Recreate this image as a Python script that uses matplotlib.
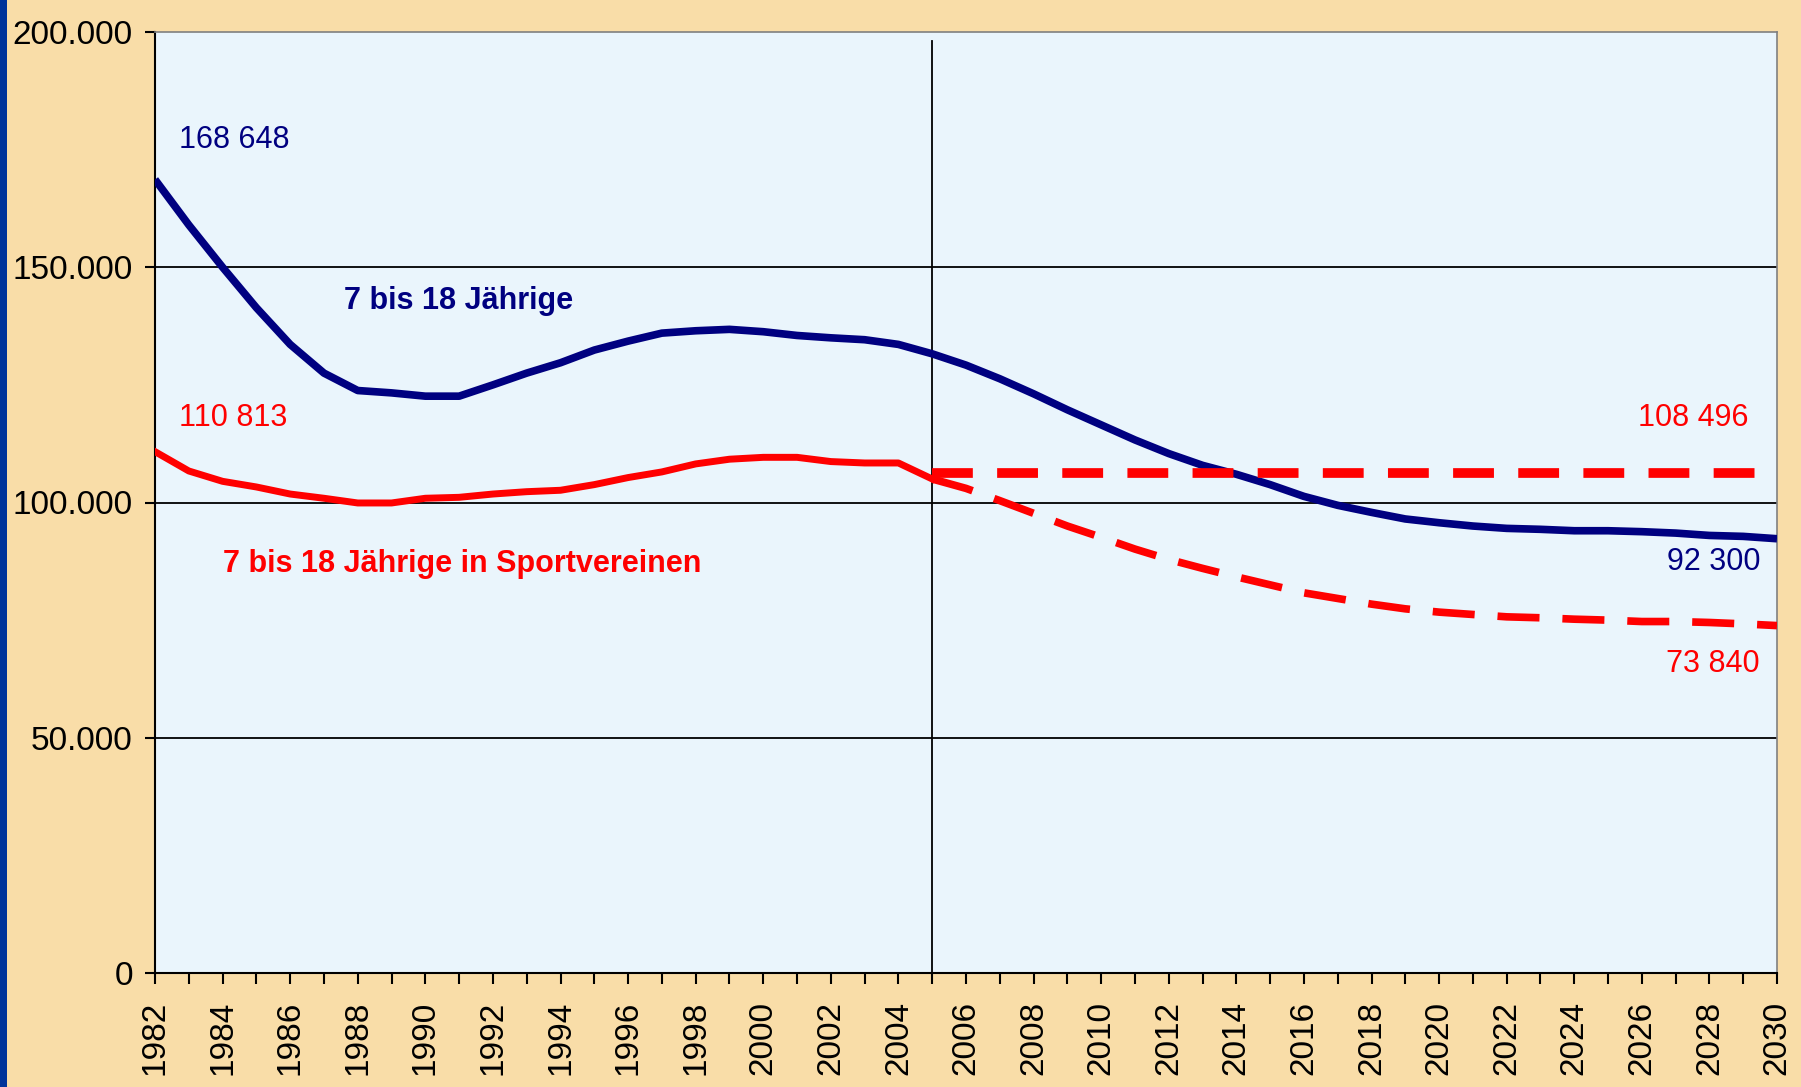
import matplotlib.pyplot as plt
from matplotlib.patches import Rectangle
from matplotlib.ticker import FuncFormatter

plt.rcParams['font.family'] = ['Liberation Sans', 'DejaVu Sans']

years = list(range(1982, 2031))
years_hist = list(range(1982, 2006))
years_proj = list(range(2005, 2031))

# 7 bis 18 Jaehrige (Bevoelkerung)
population = [168648, 159000, 150000, 141400, 133600, 127500, 123800, 123300, 122600, 122600,
              125000, 127500, 129700, 132400, 134300, 136000, 136500, 136800, 136300, 135500,
              135000, 134600, 133600, 131600, 129200, 126300, 123100, 119700, 116500, 113300,
              110400, 107900, 106000, 103800, 101300, 99400, 97900, 96500, 95700, 95000,
              94500, 94300, 94000, 94000, 93800, 93500, 93000, 92800, 92300]

# in Sportvereinen, bis 2005
members_hist = [110813, 106700, 104500, 103300, 101800, 100900, 99900, 99900, 100900, 101100,
                101800, 102300, 102600, 103800, 105300, 106500, 108200, 109200, 109600, 109600,
                108700, 108400, 108400, 105000]

# Projektion: konstante Quote
members_const = [106300] * len(years_proj)

# Projektion: Rueckgang
members_proj = [105000, 103000, 100400, 97700, 95000, 92600, 90100, 87900, 86000, 84200,
                82500, 80800, 79600, 78400, 77400, 76700, 76200, 75700, 75500, 75200,
                75000, 74700, 74700, 74500, 74200, 73840]

bg = '#F9DDA8'
navy = '#000080'
red = '#FF0000'

fig = plt.figure(figsize=(18.01, 10.87), dpi=100, facecolor=bg)
fig.patches.append(Rectangle((0, 0), 7 / 1801, 1, transform=fig.transFigure,
                             facecolor='#00339A', edgecolor='none'))
ax = fig.add_axes([155 / 1801, 1 - 973 / 1087, 1622 / 1801, 941 / 1087])
ax.set_facecolor('#EAF5FC')

for yv in [50000, 100000, 150000]:
    ax.axhline(yv, color='black', lw=1.3, zorder=1)
ax.axvline(2005, ymax=0.99, color='black', lw=1.3, zorder=1)

ax.plot(years, population, color=navy, lw=5.5, solid_capstyle='butt', zorder=3)
ax.plot(years_hist, members_hist, color=red, lw=5, zorder=3)
ax.plot(years_proj, members_const, color=red, lw=7, dashes=(4.2, 2.5), zorder=3)
ax.plot(years_proj, members_proj, color=red, lw=5.5, dashes=(5.5, 3.0), zorder=3)

ax.set_xlim(1982, 2030)
ax.set_ylim(0, 200000)
ax.set_xticks(years, minor=True)
ax.set_xticks(list(range(1982, 2031, 2)))
ax.set_xticklabels([str(y) for y in range(1982, 2031, 2)], rotation=90)
ax.set_yticks([0, 50000, 100000, 150000, 200000])
ax.yaxis.set_major_formatter(FuncFormatter(lambda v, p: '0' if v == 0 else f'{int(v):,}'.replace(',', '.')))

ax.tick_params(axis='y', direction='out', length=7, width=1.5, pad=9, labelsize=24)
ax.tick_params(axis='x', which='both', direction='out', length=8, width=1.5, pad=12, labelsize=24)

for s in ['left', 'bottom']:
    ax.spines[s].set_color('black')
    ax.spines[s].set_linewidth(1.5)
for s in ['top', 'right']:
    ax.spines[s].set_color('#808080')
    ax.spines[s].set_linewidth(1.2)

ax.text(1982.7, 177000, '168 648', color=navy, fontsize=22, va='center')
ax.text(1982.7, 118000, '110 813', color=red, fontsize=22, va='center')
ax.text(1987.6, 142900, '7 bis 18 Jährige', color=navy, fontsize=22, fontweight='bold', va='center')
ax.text(1984.0, 86900, '7 bis 18 Jährige in Sportvereinen', color=red, fontsize=22,
        fontweight='bold', va='center')
ax.text(2029.15, 118000, '108 496', color=red, fontsize=22, va='center', ha='right')
ax.text(2029.5, 87400, '92 300', color=navy, fontsize=22, va='center', ha='right')
ax.text(2029.5, 65700, '73 840', color=red, fontsize=22, va='center', ha='right')

plt.savefig('out.png', dpi=100, facecolor=bg)
